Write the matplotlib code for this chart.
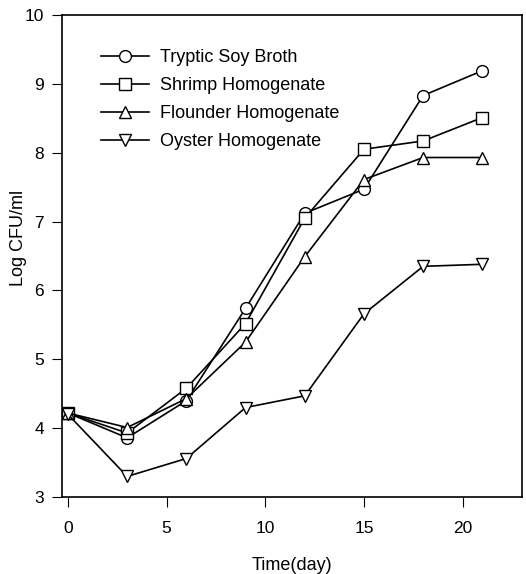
import matplotlib
matplotlib.use("Agg")
import matplotlib.pyplot as plt

# Datos
dias = [0, 3, 6, 9, 12, 15, 18, 21]
tryptic = [4.22, 3.86, 4.40, 5.74, 7.12, 7.47, 8.83, 9.19]
shrimp = [4.22, 3.93, 4.58, 5.52, 7.05, 8.05, 8.17, 8.51]
flounder = [4.22, 4.01, 4.43, 5.25, 6.49, 7.61, 7.93, 7.93]
oyster = [4.20, 3.30, 3.56, 4.30, 4.47, 5.66, 6.35, 6.38]

series = [
    ("Tryptic Soy Broth", tryptic, "o"),
    ("Shrimp Homogenate", shrimp, "s"),
    ("Flounder Homogenate", flounder, "^"),
    ("Oyster Homogenate", oyster, "v"),
]

plt.rcParams['font.family'] = ['Liberation Sans', 'DejaVu Sans']

fig = plt.figure(figsize=(5.26, 5.74), dpi=100)
ax = fig.add_axes([0.118, 0.134, 0.874, 0.840])

for nombre, valores, marcador in series:
    ax.plot(dias, valores, color="black", lw=1.2, marker=marcador,
            markersize=8.5, markerfacecolor="white", markeredgecolor="black",
            markeredgewidth=1.0, label=nombre)

ax.set_xlim(-0.3, 23)
ax.set_ylim(3, 10)
ax.set_xticks([0, 5, 10, 15, 20])
ax.set_yticks([3, 4, 5, 6, 7, 8, 9, 10])
ax.tick_params(direction="out", length=7, labelsize=12.5, top=False, right=False)
ax.tick_params(axis="x", pad=10)
ax.tick_params(axis="y", pad=6)
ax.set_xlabel("Time(day)", fontsize=13, labelpad=15)
ax.set_ylabel("Log CFU/ml", fontsize=13)
ax.yaxis.set_label_coords(-0.076, 0.537)
for s in ax.spines.values():
    s.set_linewidth(1.2)

ax.legend(loc="upper left", bbox_to_anchor=(0.049, 0.962), frameon=False,
          fontsize=13, handlelength=2.65, labelspacing=0.6, handletextpad=0.65)

fig.savefig("out.png", dpi=100)
